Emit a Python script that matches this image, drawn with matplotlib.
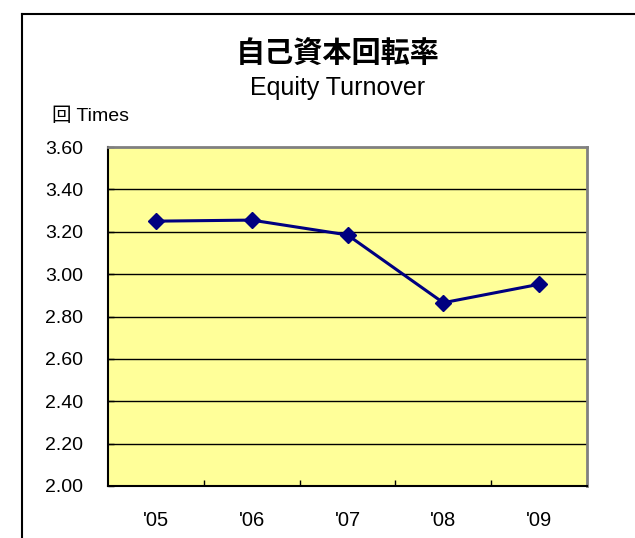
import matplotlib
matplotlib.use('Agg')
import matplotlib.pyplot as plt
from matplotlib.lines import Line2D
import numpy as np

plt.rcParams['font.family'] = ['Liberation Sans', 'Noto Sans CJK JP']

# データ
years = ["'05", "'06", "'07", "'08", "'09"]
turnover = [3.25, 3.255, 3.185, 2.865, 2.952]
y_ticks = [2.00, 2.20, 2.40, 2.60, 2.80, 3.00, 3.20, 3.40, 3.60]

fig = plt.figure(figsize=(6.35, 5.38), dpi=100)
ax = fig.add_axes([108/635, 52/538, 479/635, 339/538])

# 外枠
fig.add_artist(Line2D([22/635, 22/635], [0, 1 - 14/538], color='black', lw=1.5, transform=fig.transFigure))
fig.add_artist(Line2D([22/635, 1], [1 - 14/538, 1 - 14/538], color='black', lw=1.5, transform=fig.transFigure))

ax.set_facecolor('#FFFF99')
x = np.arange(len(years))
ax.plot(x, turnover, color='#000080', lw=2.2, marker='D', markersize=8.5, zorder=3)

ax.set_xlim(-0.5, len(years) - 0.5)
ax.set_ylim(2.0, 3.6)
ax.set_yticks(y_ticks)
ax.set_yticklabels(['%.2f' % v for v in y_ticks], fontsize=14)
ax.set_xticks(x)
ax.set_xticklabels(years, fontsize=14.5)
ax.set_xticks(np.arange(len(years) - 1) + 0.5, minor=True)

# グリッド
for v in y_ticks[1:-1]:
    ax.axhline(v, color='black', lw=1, zorder=1)

ax.tick_params(axis='y', direction='in', length=4, width=1, pad=18)
ax.tick_params(axis='x', which='major', length=0, pad=18)
ax.tick_params(axis='x', which='minor', direction='in', length=4.5, width=1)

ax.spines['left'].set_color('black')
ax.spines['left'].set_linewidth(1.5)
ax.spines['bottom'].set_color('black')
ax.spines['bottom'].set_linewidth(1.5)
ax.spines['top'].set_color('#808080')
ax.spines['top'].set_linewidth(2)
ax.spines['right'].set_color('#808080')
ax.spines['right'].set_linewidth(2)

fig.text(338/635, 1 - 54/538, '自己資本回転率', fontsize=21, fontweight='bold',
         family=['Noto Sans CJK JP'], ha='center', va='center')
fig.text(338/635, 1 - 88/538, 'Equity Turnover', fontsize=18, ha='center', va='center')
fig.text(52/635, 1 - 116/538, '回 Times', fontsize=14, ha='left', va='center')

fig.savefig('out.png', dpi=100)
